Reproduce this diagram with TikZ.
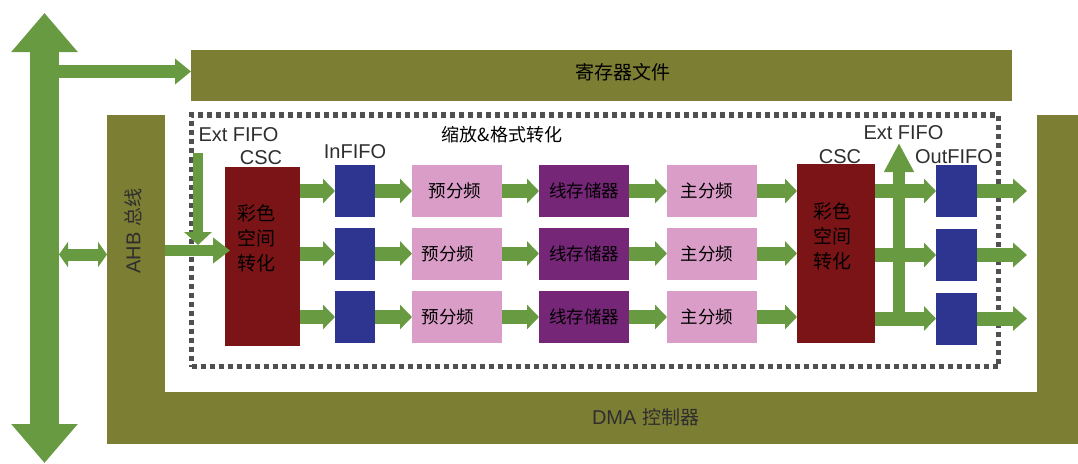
\documentclass[tikz,border=0pt]{standalone}
\usepackage{fontspec}
\setmainfont{Liberation Sans}
\newfontfamily\cjk{Noto Sans CJK SC}
\usetikzlibrary{arrows.meta}
\definecolor{garrow}{HTML}{689A41}
\definecolor{olivec}{HTML}{7C7E34}
\definecolor{cscred}{HTML}{7B1416}
\definecolor{fifoblue}{HTML}{2E3590}
\definecolor{divpink}{HTML}{D99DC7}
\definecolor{bufpurple}{HTML}{762677}
\definecolor{dashgray}{HTML}{505050}
\definecolor{labgray}{HTML}{2E2E2E}
\begin{document}
\begin{tikzpicture}[x=1pt,y=-1pt,
  blk/.style={draw=none, inner sep=0pt, outer sep=0pt},
  fifo/.style={blk, fill=fifoblue, minimum height=52pt},
  divbox/.style={blk, fill=divpink, minimum width=90pt, minimum height=52pt, font=\cjk\fontsize{17.5}{19}\selectfont},
  bufbox/.style={blk, fill=bufpurple, minimum width=90pt, minimum height=52pt, font=\cjk\fontsize{17.5}{19}\selectfont},
  cscbox/.style={blk, fill=cscred, minimum height=179pt},
  fat/.style={draw=garrow, line width=14pt, -{Triangle[length=12pt,width=24pt]}},
  lab/.style={inner sep=0pt, text=labgray, font=\fontsize{20}{22}\selectfont},
  cjklab/.style={inner sep=0pt, text=black, font=\cjk\fontsize{19}{25}\selectfont}
]
\useasboundingbox (0,0) rectangle (1078,463);
\fill[white] (0,0) rectangle (1078,463);

% DMA controller (U shape) and register file
\node[blk, fill=olivec, minimum width=58pt, minimum height=329pt] (dmaL) at (136,279.5) {};
\node[blk, fill=olivec, minimum width=971pt, minimum height=52pt] (dmaB) at (592.5,418) {};
\node[blk, fill=olivec, minimum width=41pt, minimum height=329pt] (dmaR) at (1057.5,279.5) {};
\node[blk, fill=olivec, minimum width=821pt, minimum height=51pt] (reg) at (601.5,75.5) {};

% dashed frame
\node[draw=dashgray, line width=5.5pt, dash pattern=on 5pt off 4pt, inner sep=0pt,
      minimum width=807pt, minimum height=251.5pt] (frame) at (595,240.75) {};

% blocks
\node[cscbox, minimum width=75pt] (csc1) at (262.5,256.5) {};
\node[cscbox, minimum width=78pt] (csc2) at (836,253.5) {};
\foreach \i/\y in {1/191,2/253.5,3/317}{
  \node[fifo, minimum width=40pt] (in\i) at (355,\y) {};
}
\node[divbox] (pre1) at (457,191) {\hspace*{-4pt}预分频};
\node[divbox] (pre2) at (457,253.5) {\hspace*{-18pt}预分频};
\node[divbox] (pre3) at (457,317) {\hspace*{-18pt}预分频};
\foreach \i/\y in {1/191,2/253.5,3/317}{
  \node[bufbox] (buf\i) at (584,\y) {线存储器};
  \node[divbox] (main\i) at (712,\y) {\hspace*{-10pt}主分频};
}
\foreach \i/\y in {1/191,2/255,3/318.5}{
  \node[fifo, minimum width=41pt] (out\i) at (956.5,\y) {};
}

% main bus
\coordinate (busTop) at (44.5,13);
\coordinate (busBot) at (44.5,463);
\draw[draw=garrow, line width=29pt, {Triangle[length=39pt,width=64pt]}-{Triangle[length=39pt,width=64pt]}] (busTop) -- (busBot);
\coordinate (regSrc) at (44.5,71.5);
\draw[draw=garrow, line width=13pt, -{Triangle[length=16pt,width=25pt]}] (regSrc) -- (regSrc -| reg.west);
\coordinate (ahbSrc) at (59,254.5);
\draw[draw=garrow, line width=12pt, {Triangle[length=9pt,width=25pt]}-{Triangle[length=9pt,width=25pt]}] (ahbSrc) -- (ahbSrc -| dmaL.west);
\coordinate (cscIn) at (230,250.5);
\draw[draw=garrow, line width=11pt, -{Triangle[length=17pt,width=25pt]}] (cscIn -| dmaL.east) -- (cscIn);
\coordinate (extTop) at (198,153);
\coordinate (extEnd) at (198,245);
\draw[draw=garrow, line width=10pt, -{Triangle[length=13pt,width=27pt]}] (extTop) -- (extEnd);

% data path arrows
\foreach \i in {1,2,3}{
  \draw[fat] (csc1.east |- in\i) -- (in\i.west);
  \draw[fat] (in\i.east) -- (pre\i.west);
  \draw[fat] (pre\i.east) -- (buf\i.west);
  \draw[fat] (buf\i.east) -- (main\i.west);
  \draw[fat] (main\i.east) -- (csc2.west |- main\i);
  \draw[fat] (csc2.east |- out\i) -- (out\i.west);
}
\coordinate (oEnd) at (1027,0);
\foreach \i in {1,2,3}{
  \draw[draw=garrow, line width=14pt, -{Triangle[length=14pt,width=24pt]}] (out\i.east) -- (out\i.east -| oEnd);
}
\coordinate (extOut) at (899,143);
\draw[draw=garrow, line width=12pt, -{Triangle[length=29pt,width=28pt]}] (extOut |- out3) -- (extOut);

% labels
\node[cjklab] (regT) at (623,72) {寄存器文件};
\node[inner sep=0pt, text=labgray] (dmaT) at (645.5,417) {\fontsize{20}{22}\selectfont DMA {\cjk\fontsize{19}{22}\selectfont 控制器}};
\node[inner sep=0pt, text=labgray, rotate=90] (ahbT) at (133,231) {\fontsize{20}{22}\selectfont AHB {\cjk\fontsize{19}{22}\selectfont 总线}};
\node[lab] (extL) at (238.5,135) {Ext FIFO};
\node[lab] (cscL) at (261,158) {CSC};
\node[lab] (inT) at (355,152) {InFIFO};
\node[cjklab, font=\cjk\fontsize{18}{20}\selectfont] (scT) at (502,135) {缩放\&格式转化};
\node[lab] (extR) at (903.5,133) {Ext FIFO};
\node[lab] (cscR) at (840,157) {CSC};
\node[lab] (outT) at (954,157) {OutFIFO};
\node[cjklab, align=left] (csc1T) at (256,238) {彩色\\空间\\转化};
\node[cjklab, align=left] (csc2T) at (832,236) {彩色\\空间\\转化};
\end{tikzpicture}
\end{document}
